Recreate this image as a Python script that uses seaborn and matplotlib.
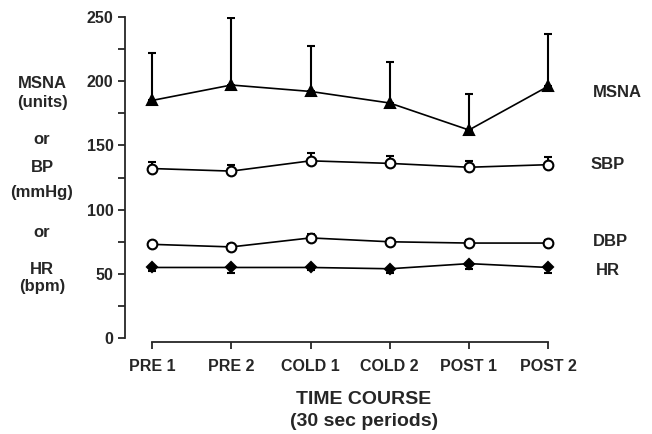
import numpy as np
import pandas as pd
import matplotlib
matplotlib.use("Agg")
import matplotlib.pyplot as plt
import seaborn as sns

# periods on the x axis
periods = ["PRE 1", "PRE 2", "COLD 1", "COLD 2", "POST 1", "POST 2"]

# means
msna = [185, 197, 192, 183, 162, 196]
sbp = [132, 130, 138, 136, 133, 135]
dbp = [73, 71, 78, 75, 74, 74]
hr = [55, 55, 55, 54, 58, 55]

# error bar lengths (one-sided)
msna_err = [37, 52, 35, 32, 28, 41]
sbp_err = [5, 5, 6, 6, 5, 6]
dbp_err = [2, 2, 3, 2, 2, 2]
hr_err = [3, 4, 2, 3, 4, 4]

sns.set_style("ticks")
plt.rcParams["font.family"] = ["Liberation Sans", "DejaVu Sans"]
plt.rcParams["font.weight"] = "bold"

fig = plt.figure(figsize=(6.52, 4.34), dpi=100)
ax = fig.add_axes([0.192, 0.212, 0.673, 0.749])

x = np.arange(len(periods))
df = pd.DataFrame({"x": x, "MSNA": msna, "SBP": sbp, "DBP": dbp, "HR": hr})

styles = {
    "MSNA": dict(marker="^", ms=7, mfc="black", err=msna_err, side="up"),
    "SBP": dict(marker="o", ms=7, mfc="white", err=sbp_err, side="up"),
    "DBP": dict(marker="o", ms=7, mfc="white", err=dbp_err, side="up"),
    "HR": dict(marker="D", ms=5.5, mfc="black", err=hr_err, side="down"),
}

for name, st in styles.items():
    err = np.array(st["err"])
    zeros = np.zeros_like(err)
    yerr = [zeros, err] if st["side"] == "up" else [err, zeros]
    ax.errorbar(df["x"], df[name], yerr=yerr, fmt="none", ecolor="black",
                elinewidth=1.5, capsize=3, capthick=1.5, zorder=2)
    sns.lineplot(data=df, x="x", y=name, ax=ax, color="black", linewidth=1.2,
                 marker=st["marker"], markersize=st["ms"],
                 markerfacecolor=st["mfc"], markeredgecolor="black",
                 markeredgewidth=1.5, zorder=3)

# series labels on the right
label_pos = {"MSNA": (5.56, 191), "SBP": (5.53, 135), "DBP": (5.56, 75), "HR": (5.6, 53)}
for name, (lx, ly) in label_pos.items():
    ax.text(lx, ly, name, fontsize=12, fontweight="bold", va="center",
            ha="left", clip_on=False)

ax.set_xlim(-0.34, 5.2)
ax.set_ylim(-3, 250)
ax.set_yticks(np.arange(0, 251, 50))
ax.set_yticks(np.arange(25, 250, 50), minor=True)
ax.set_xticks(x)
ax.set_xticklabels(periods)
ax.tick_params(axis="both", labelsize=11.5, width=1.3, length=5, direction="out")
ax.tick_params(axis="x", pad=7)
ax.tick_params(axis="y", which="minor", width=1.3, length=5)
for lab in ax.get_xticklabels() + ax.get_yticklabels():
    lab.set_fontweight("bold")
ax.set_xlabel("")
ax.set_ylabel("")

sns.despine(ax=ax)
ax.spines["left"].set_bounds(0, 250)
ax.spines["bottom"].set_bounds(0, 5)
ax.spines["left"].set_linewidth(1.3)
ax.spines["bottom"].set_linewidth(1.3)

# stacked y axis description
ylab = [("MSNA", 83), ("(units)", 102), ("or", 140), ("BP", 168),
        ("(mmHg)", 193), ("or", 233), ("HR", 269), ("(bpm)", 287)]
for txt, py in ylab:
    fig.text(42 / 652, 1 - py / 434, txt, fontsize=12, fontweight="bold",
             ha="center", va="center")

fig.text(364 / 652, 1 - 400 / 434, "TIME COURSE", fontsize=14,
         fontweight="bold", ha="center", va="center")
fig.text(364 / 652, 1 - 422 / 434, "(30 sec periods)", fontsize=14,
         fontweight="bold", ha="center", va="center")

fig.savefig("out.png", dpi=100)
